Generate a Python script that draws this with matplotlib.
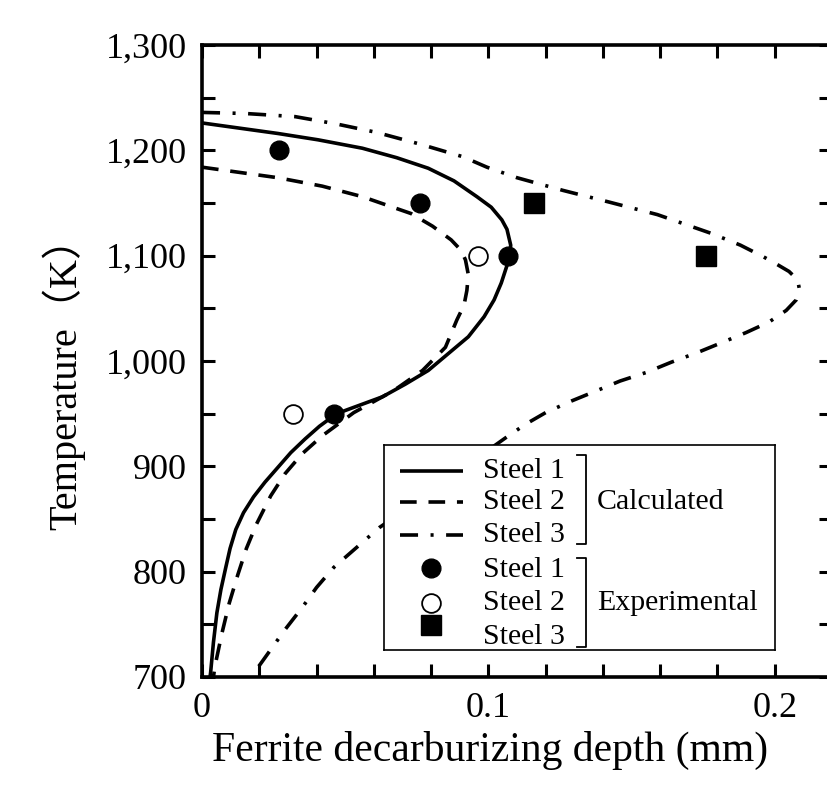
import matplotlib
matplotlib.use("Agg")
import matplotlib.pyplot as plt
from matplotlib.ticker import MultipleLocator, FuncFormatter

plt.rcParams['font.family'] = ['Liberation Serif', 'Noto Sans CJK SC']
plt.rcParams['lines.scale_dashes'] = False

# calculated curves: depth (mm), temperature (K)
s1_x = [0.000, 0.0265, 0.0405, 0.056, 0.068, 0.079, 0.088, 0.096, 0.101, 0.1047, 0.1065,
        0.1078, 0.1075, 0.1045, 0.102, 0.0985, 0.093, 0.086, 0.079, 0.071, 0.063, 0.055,
        0.047, 0.041, 0.036, 0.031, 0.0265, 0.022, 0.018, 0.0145, 0.0118, 0.0098, 0.0083,
        0.0066, 0.0052, 0.004, 0.003, 0.0028]
s1_t = [1226, 1216, 1210, 1202, 1193, 1183, 1171, 1156, 1146, 1134, 1125,
        1110, 1099, 1074, 1058, 1042, 1023, 1007, 991, 978, 966, 958,
        950, 938, 926, 913, 899, 885, 871, 856, 840, 822, 804,
        783, 761, 733, 704, 700]

s2_x = [0.000, 0.0265, 0.042, 0.056, 0.073, 0.0805, 0.087, 0.0905, 0.092, 0.093, 0.0925,
        0.0915, 0.089, 0.085, 0.077, 0.067, 0.053, 0.042, 0.035, 0.029, 0.024, 0.019,
        0.0155, 0.0125, 0.0095, 0.007, 0.0045, 0.004]
s2_t = [1184, 1174, 1166, 1156, 1140, 1128, 1115, 1105, 1096, 1082, 1067,
        1053, 1039, 1013, 991, 972, 951, 929, 912, 893, 872, 845,
        822, 797, 770, 742, 710, 700]

s3_x = [0.000, 0.015, 0.0325, 0.047, 0.061, 0.076, 0.091, 0.0995, 0.11, 0.126, 0.142,
        0.159, 0.178, 0.188, 0.196, 0.2, 0.205, 0.208, 0.2087, 0.2075, 0.204, 0.198,
        0.190, 0.182, 0.173, 0.164, 0.155, 0.146, 0.138, 0.129, 0.120, 0.113, 0.1065,
        0.092, 0.077, 0.062, 0.054, 0.046, 0.040, 0.035, 0.029, 0.024, 0.019, 0.018]
s3_t = [1236, 1235, 1232, 1225, 1217, 1206, 1194, 1184, 1174, 1162, 1151,
        1139, 1121, 1110, 1099, 1093, 1085, 1077, 1067, 1058, 1048, 1037,
        1027, 1018, 1008, 999, 989, 981, 972, 962, 951, 940, 928,
        900, 870, 842, 823, 804, 785, 766, 745, 726, 707, 700]

# experimental points
e1_x = [0.027, 0.076, 0.107, 0.046]
e1_t = [1200, 1150, 1100, 950]
e2_x = [0.0963, 0.0318]
e2_t = [1100, 950]
e3_x = [0.116, 0.176]
e3_t = [1150, 1100]

legend_labels = ['Steel 1', 'Steel 2', 'Steel 3']
group_labels = ['Calculated', 'Experimental']

fig = plt.figure(figsize=(8.27, 7.94), dpi=100)
ax = fig.add_axes([202/827, 117/794, 630/827, 632/794])

lw = 2.6
dash2 = (12, 8.5)
dash3 = (13, 9, 2.2, 9)
ax.plot(s1_x, s1_t, color='k', lw=lw, solid_capstyle='butt', solid_joinstyle='round')
ax.plot(s2_x, s2_t, color='k', lw=lw, dashes=dash2)
ax.plot(s3_x, s3_t, color='k', lw=lw, dashes=dash3)

ax.plot(e1_x, e1_t, 'o', color='k', ms=13.5, zorder=4)
ax.plot(e2_x, e2_t, 'o', mfc='white', mec='k', mew=1.3, ms=13.5, zorder=4)
ax.plot(e3_x, e3_t, 's', color='k', ms=14, zorder=4)

ax.set_xlim(0, 0.22)
ax.set_ylim(700, 1300)
ax.xaxis.set_major_locator(MultipleLocator(0.1))
ax.xaxis.set_minor_locator(MultipleLocator(0.02))
ax.yaxis.set_major_locator(MultipleLocator(100))
ax.yaxis.set_minor_locator(MultipleLocator(50))
ax.xaxis.set_major_formatter(FuncFormatter(lambda v, p: '0' if abs(v) < 1e-9 else f'{v:.1f}'))
ax.yaxis.set_major_formatter(FuncFormatter(lambda v, p: f'{int(round(v)):,}'))
ax.tick_params(which='both', direction='in', top=True, right=True,
               length=9.5, width=2.2, labelsize=26, pad=11)
for sp in ax.spines.values():
    sp.set_linewidth(2.6)

ax.set_xlabel('Ferrite decarburizing depth (mm)', fontsize=30)
ax.xaxis.set_label_coords(0.457, -0.085)
ax.set_ylabel('Temperature（K）', fontsize=29)
ax.yaxis.set_label_coords(-0.186, 0.48)

# legend box
lg = ax.inset_axes([0.289, 0.0427, 0.6206, 0.3244])
lg.set_zorder(6)
lg.set_xlim(0, 1)
lg.set_ylim(0, 1)
lg.set_xticks([])
lg.set_yticks([])
for sp in lg.spines.values():
    sp.set_linewidth(1.2)

rows = [0.873, 0.722, 0.561, 0.39, 0.229, 0.063]
lg.plot([0.041, 0.202], [rows[0]] * 2, color='k', lw=lw, solid_capstyle='butt')
lg.plot([0.041, 0.202], [rows[1]] * 2, color='k', lw=lw, dashes=dash2)
lg.plot([0.041, 0.202], [rows[2]] * 2, color='k', lw=lw, dashes=dash3)
lg.plot([0.12], [0.40], 'o', color='k', ms=13.5)
lg.plot([0.12], [0.229], 'o', mfc='white', mec='k', mew=1.3, ms=13.5)
lg.plot([0.12], [0.122], 's', color='k', ms=14)
for i, r in enumerate(rows):
    lg.text(0.253, r, legend_labels[i % 3], fontsize=21.5, va='center', ha='left')

# brackets
for top, bot in [(0.951, 0.517), (0.449, 0.015)]:
    lg.plot([0.494, 0.517, 0.517, 0.494], [top, top, bot, bot], color='k', lw=1.3)
lg.text(0.545, 0.722, group_labels[0], fontsize=21.5, va='center', ha='left')
lg.text(0.545, 0.229, group_labels[1], fontsize=21.5, va='center', ha='left')

fig.savefig('out.png', dpi=100)
